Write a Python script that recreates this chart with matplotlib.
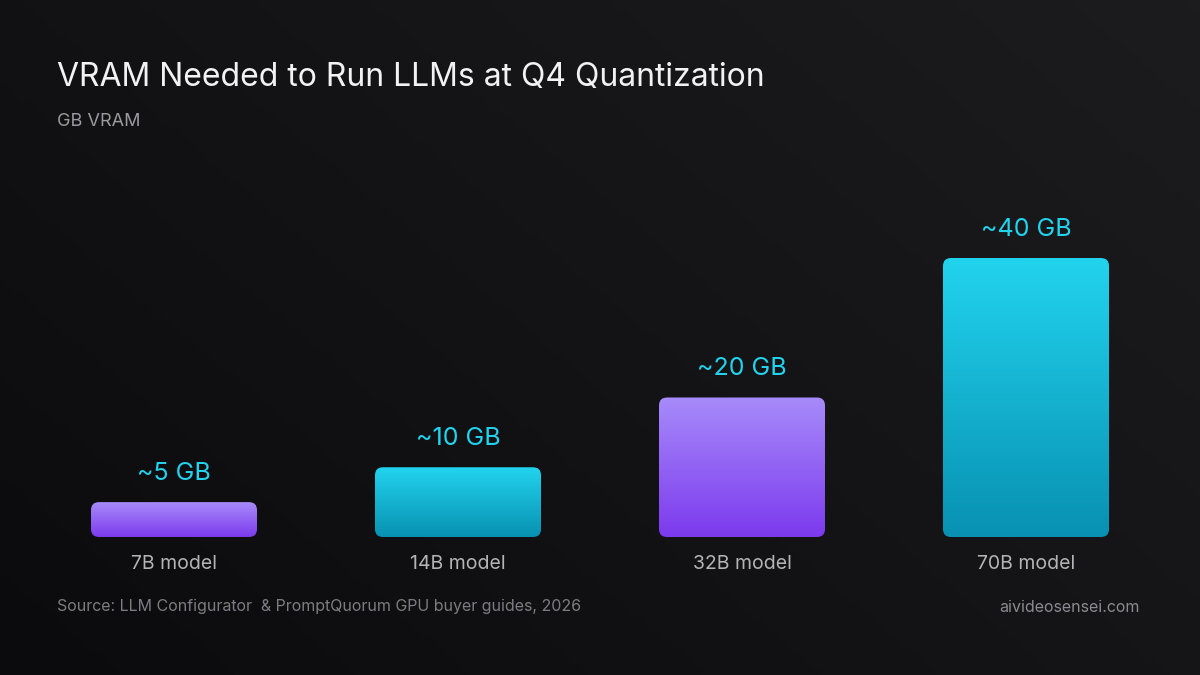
import matplotlib

matplotlib.use("Agg")

import matplotlib.pyplot as plt
import numpy as np
from matplotlib.colors import LinearSegmentedColormap
from matplotlib.patches import FancyBboxPatch

plt.rcParams["font.family"] = ["Inter", "DejaVu Sans"]

models = ["7B model", "14B model", "32B model", "70B model"]
vram_gb = [5, 10, 20, 40]
value_labels = ["~5 GB", "~10 GB", "~20 GB", "~40 GB"]
bar_styles = ["purple", "cyan", "purple", "cyan"]

GRADIENTS = {
    "purple": ("#7c3aed", "#a78bfa"),
    "cyan": ("#0891b2", "#22d3ee"),
}

fig = plt.figure(figsize=(12, 6.75), dpi=100)

# background gradient
bg = fig.add_axes([0, 0, 1, 1])
bg.axis("off")
gx, gy = np.meshgrid(np.linspace(0, 1, 200), np.linspace(0, 1, 120))
bg.imshow(gx * 0.6 + (1 - gy) * 0.4, cmap=LinearSegmentedColormap.from_list("bg", ["#0b0b0d", "#1c1c1f"]),
          extent=[0, 1, 0, 1], aspect="auto", origin="upper")

ax = fig.add_axes([0, 0, 1, 1])
ax.set_facecolor("none")
ax.axis("off")
px_per_cat = 284.0
px_per_gb = 6.975
ax.set_xlim(-174 / px_per_cat, (1200 - 174) / px_per_cat)
ax.set_ylim(-(675 - 537) / px_per_gb, 537 / px_per_gb)

width = 166 / px_per_cat
radius = 8 / px_per_cat
aspect = px_per_cat / px_per_gb

for i, (value, style) in enumerate(zip(vram_gb, bar_styles)):
    x0 = i - width / 2
    patch = FancyBboxPatch((x0, 0), width, value,
                           boxstyle=f"round,pad=0,rounding_size={radius}",
                           mutation_aspect=aspect, facecolor="none", edgecolor="none")
    ax.add_patch(patch)
    cmap = LinearSegmentedColormap.from_list(style, GRADIENTS[style])
    img = ax.imshow(np.linspace(0, 1, 100).reshape(-1, 1), cmap=cmap, origin="lower",
                    extent=[x0, x0 + width, 0, value], aspect="auto", zorder=2)
    img.set_clip_path(patch)
    ax.text(i, value + 2.5, value_labels[i], ha="center", va="bottom",
            fontsize=18, color="#22d3ee", zorder=3)
    ax.text(i, -3.9, models[i], ha="center", va="center", fontsize=14, color="#b4b4b8")

ax.set_xlim(-174 / px_per_cat, (1200 - 174) / px_per_cat)
ax.set_ylim(-(675 - 537) / px_per_gb, 537 / px_per_gb)

fig.text(57 / 1200, 1 - 78 / 675, "VRAM Needed to Run LLMs at Q4 Quantization",
         fontsize=23, color="#f2f2f2", va="center", ha="left")
fig.text(57 / 1200, 1 - 121 / 675, "GB VRAM", fontsize=13, color="#9a9aa0", va="center", ha="left")
fig.text(57 / 1200, 1 - 607 / 675, "Source: LLM Configurator  & PromptQuorum GPU buyer guides, 2026",
         fontsize=11.5, color="#7c7c82", va="center", ha="left")
fig.text(1140 / 1200, 1 - 607 / 675, "aivideosensei.com",
         fontsize=11.5, color="#8a8a90", va="center", ha="right")

fig.savefig("out.png", dpi=100, facecolor="#111113")
